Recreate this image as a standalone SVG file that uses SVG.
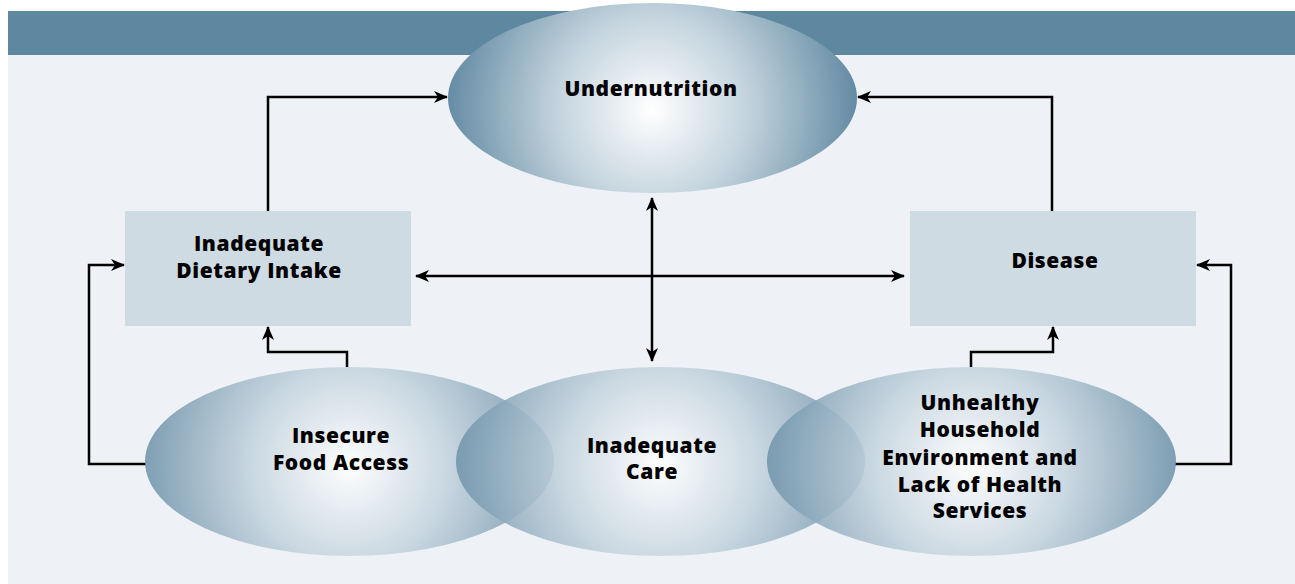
<svg xmlns="http://www.w3.org/2000/svg" width="1295" height="584" viewBox="0 0 1295 584">
  <defs>
    <radialGradient id="gTop" gradientUnits="userSpaceOnUse" cx="652" cy="108" r="212" fx="652" fy="110">
      <stop offset="0" stop-color="#ffffff"/>
      <stop offset="0.45" stop-color="#c3d3dd"/>
      <stop offset="1" stop-color="#5e87a0"/>
    </radialGradient>
    <radialGradient id="gL" gradientUnits="userSpaceOnUse" cx="349" cy="466" r="212">
      <stop offset="0" stop-color="#ffffff"/>
      <stop offset="0.45" stop-color="#c6d5df"/>
      <stop offset="1" stop-color="#6a8fa7"/>
    </radialGradient>
    <radialGradient id="gM" gradientUnits="userSpaceOnUse" cx="660" cy="466" r="212">
      <stop offset="0" stop-color="#ffffff"/>
      <stop offset="0.45" stop-color="#c6d5df"/>
      <stop offset="1" stop-color="#6a8fa7"/>
    </radialGradient>
    <radialGradient id="gR" gradientUnits="userSpaceOnUse" cx="971" cy="466" r="212">
      <stop offset="0" stop-color="#ffffff"/>
      <stop offset="0.45" stop-color="#c6d5df"/>
      <stop offset="1" stop-color="#6a8fa7"/>
    </radialGradient>
    <marker id="arr" markerUnits="userSpaceOnUse" markerWidth="14" markerHeight="12" refX="13" refY="6" orient="auto-start-reverse" viewBox="0 0 14 12">
      <path d="M0,0 L14,6 L0,12 L4,6 Z" fill="#000"/>
    </marker>
    <style>
      .lbl { font-family: "Open Sans", "Liberation Sans", sans-serif; font-weight: 800; font-size: 21px; fill: #000; text-anchor: middle; letter-spacing: 0.6px; }
      .box { fill: #cfdbe3; }
      .conn { fill: none; stroke: #000; stroke-width: 2.5; }
      .oval { opacity: 0.88; }
    </style>
  </defs>

  <rect x="0" y="0" width="1295" height="584" fill="#ffffff"/>
  <rect x="8" y="11" width="1287" height="573" fill="#eef2f6"/>
  <rect x="8" y="11" width="1287" height="44" fill="#5e87a0"/>

  <g id="connectors">
    <polyline class="conn" points="268,211 268,97 447,97" marker-end="url(#arr)"/>
    <polyline class="conn" points="1052,211 1052,97 858,97" marker-end="url(#arr)"/>
    <line class="conn" x1="652" y1="198" x2="652" y2="361" marker-start="url(#arr)" marker-end="url(#arr)"/>
    <line class="conn" x1="416" y1="276" x2="904" y2="276" marker-start="url(#arr)" marker-end="url(#arr)"/>
    <polyline class="conn" points="146,464 89,464 89,265 124,265" marker-end="url(#arr)"/>
    <polyline class="conn" points="347,367 347,352 268,352 268,327" marker-end="url(#arr)"/>
    <polyline class="conn" points="971,367 971,352 1053,352 1053,327" marker-end="url(#arr)"/>
    <polyline class="conn" points="1175,464 1231,464 1231,265 1197,265" marker-end="url(#arr)"/>
  </g>

  <g id="undernutrition">
    <ellipse cx="652.5" cy="98" rx="204.5" ry="95" fill="url(#gTop)"/>
    <text class="lbl" x="651" y="96">Undernutrition</text>
  </g>

  <g id="dietary-intake">
    <rect class="box" x="125" y="211" width="286" height="115"/>
    <text class="lbl" x="259" y="251">Inadequate</text>
    <text class="lbl" x="259" y="278">Dietary Intake</text>
  </g>

  <g id="disease">
    <rect class="box" x="910" y="211" width="286" height="115"/>
    <text class="lbl" x="1055" y="268">Disease</text>
  </g>

  <g id="food-access">
    <ellipse class="oval" cx="349.5" cy="461.5" rx="204.5" ry="94.5" fill="url(#gL)"/>
    <text class="lbl" x="341" y="443">Insecure</text>
    <text class="lbl" x="341" y="470">Food Access</text>
  </g>

  <g id="inadequate-care">
    <ellipse class="oval" cx="660.5" cy="461.5" rx="204.5" ry="94.5" fill="url(#gM)"/>
    <text class="lbl" x="652" y="453">Inadequate</text>
    <text class="lbl" x="652" y="479">Care</text>
  </g>

  <g id="household-environment">
    <ellipse class="oval" cx="971.5" cy="461.5" rx="204.5" ry="94.5" fill="url(#gR)"/>
    <text class="lbl" x="980" y="410">Unhealthy</text>
    <text class="lbl" x="980" y="437">Household</text>
    <text class="lbl" x="980" y="465">Environment and</text>
    <text class="lbl" x="980" y="492">Lack of Health</text>
    <text class="lbl" x="980" y="518">Services</text>
  </g>
</svg>
